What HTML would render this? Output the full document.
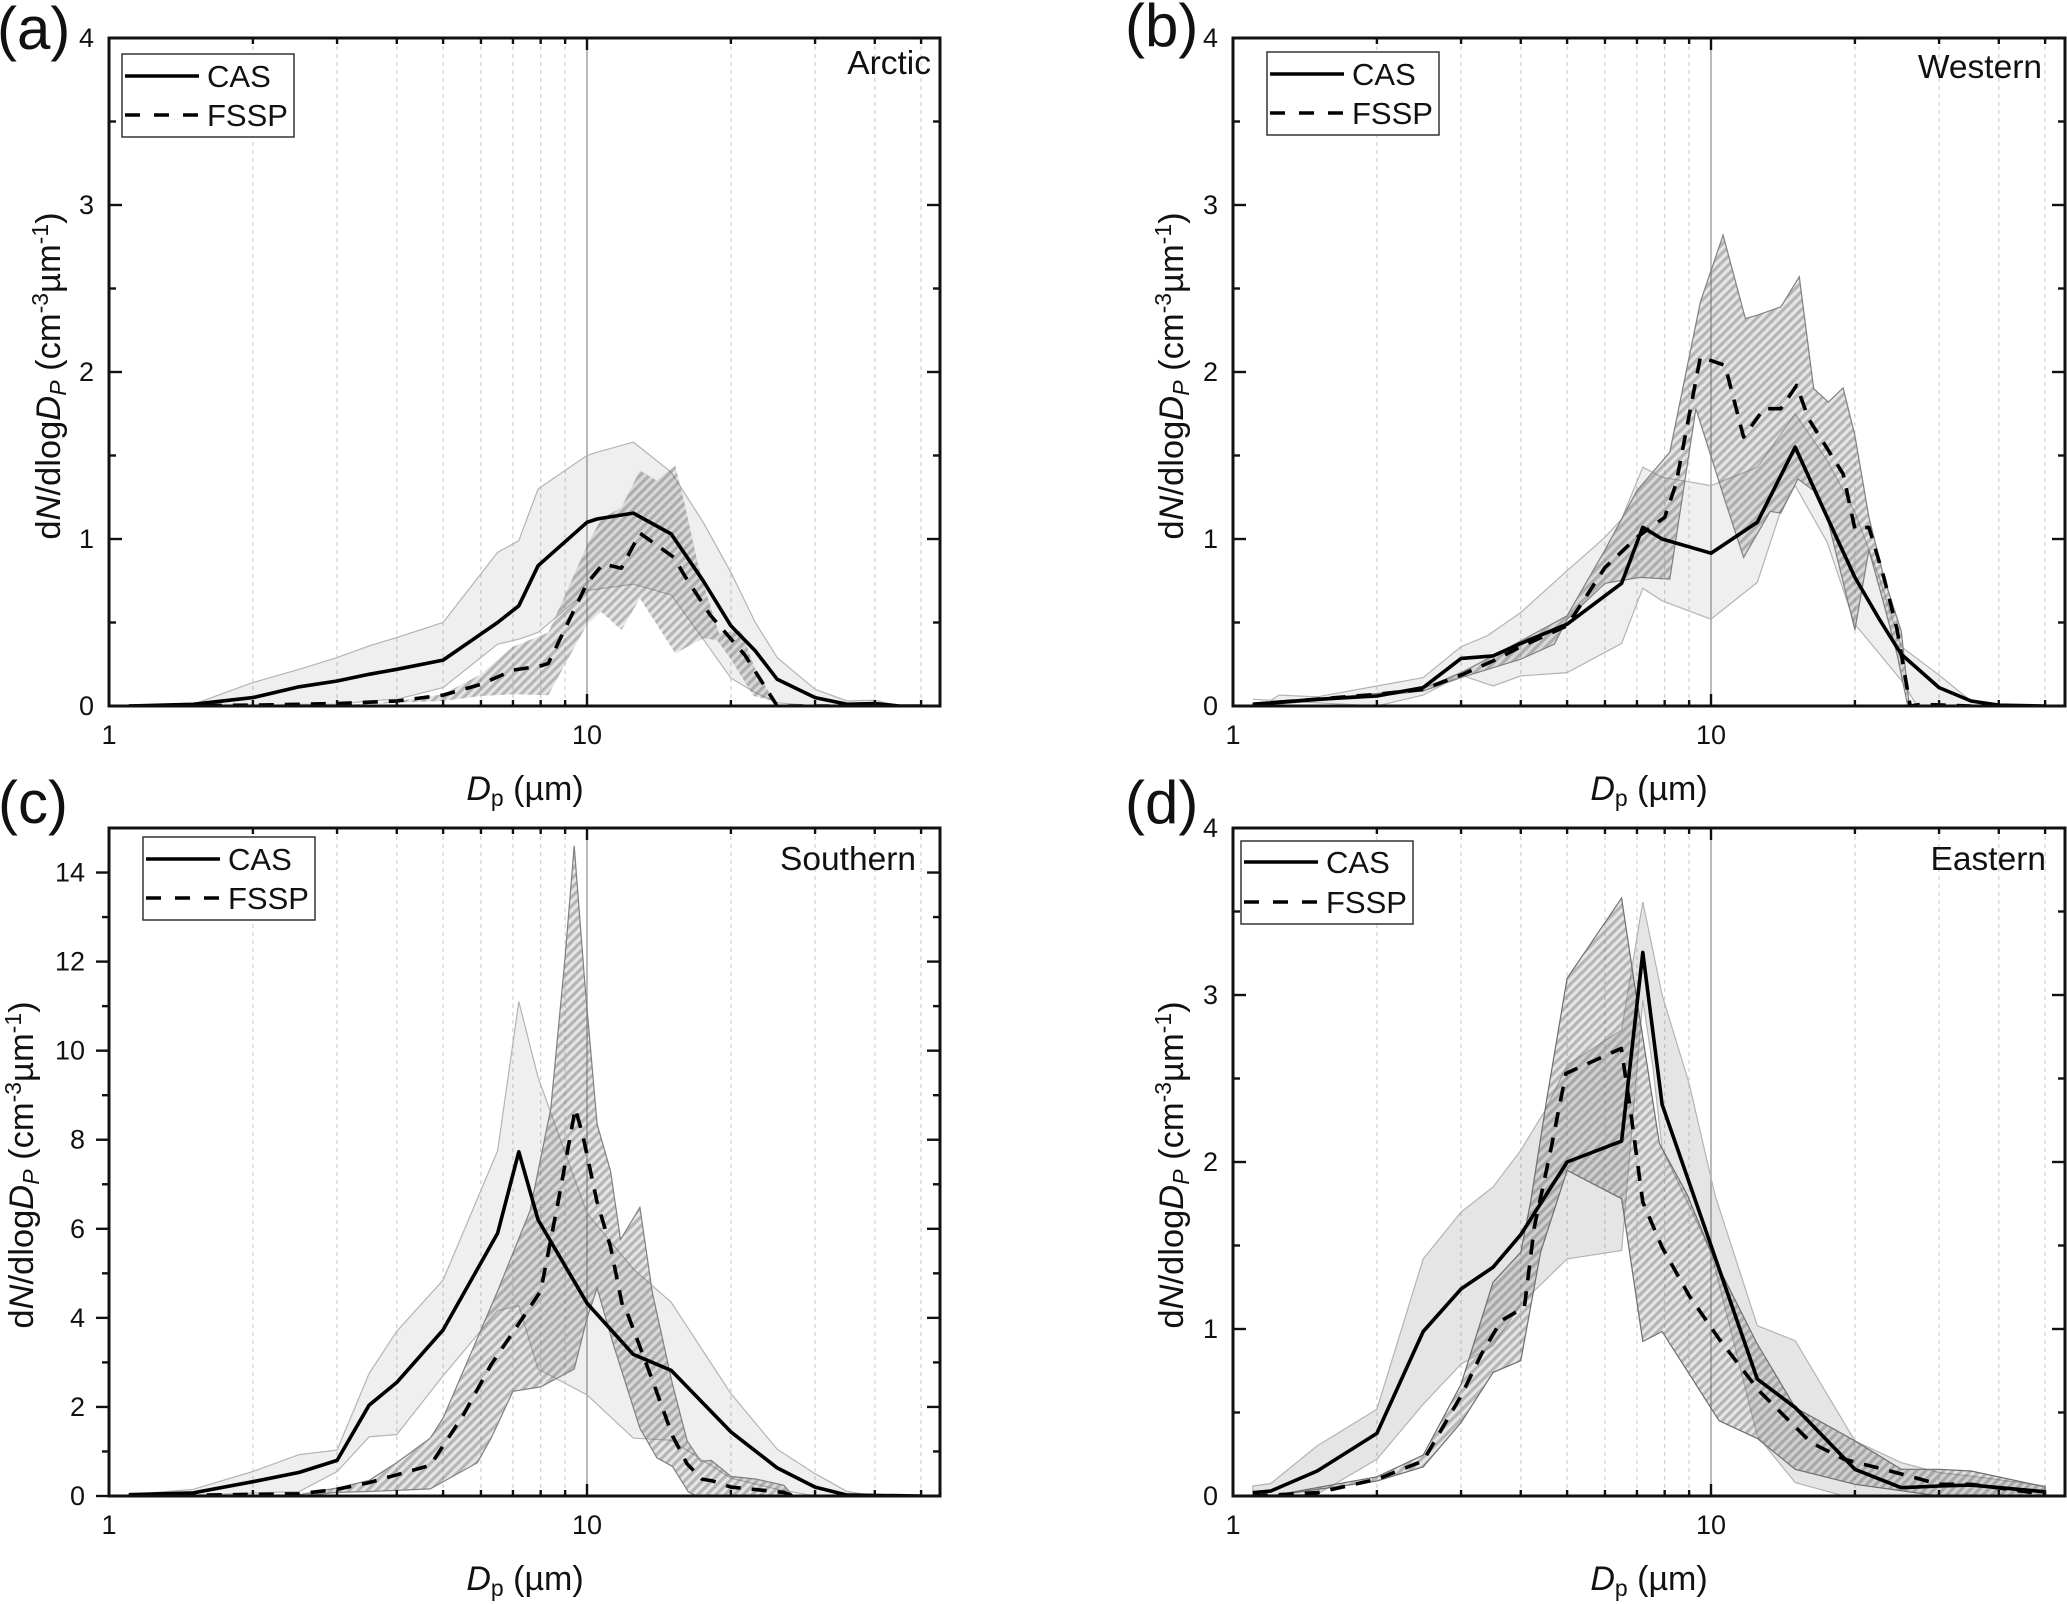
<!DOCTYPE html>
<html lang="en">
<head>
<meta charset="utf-8">
<title>Droplet size distributions by region</title>
<style>
html,body{margin:0;padding:0;background:#fff;}
svg{display:block;font-family:"Liberation Sans",Arial,sans-serif;fill:#111;}
.tick{font-size:27px;}
.ttl{font-size:34.5px;}
.xttl{font-size:34px;}
.leg{font-size:31px;}
.plab{font-size:60px;}
.reg{font-size:33.5px;}
</style>
</head>
<body>
<svg id="figure" xmlns="http://www.w3.org/2000/svg" width="2067" height="1604" viewBox="0 0 2067 1604">
<defs>
<pattern id="hatch" patternUnits="userSpaceOnUse" width="6.4" height="7" patternTransform="rotate(45)">
<rect x="0" y="0" width="3.2" height="7" fill="#646464" fill-opacity="0.48"/>
<rect x="3.2" y="0" width="3.2" height="7" fill="#646464" fill-opacity="0.17"/>
</pattern>
<clipPath id="clip-a"><rect x="109" y="38" width="831" height="668"/></clipPath>
<clipPath id="clip-b"><rect x="1233" y="38" width="832" height="668"/></clipPath>
<clipPath id="clip-c"><rect x="109" y="828" width="831" height="668"/></clipPath>
<clipPath id="clip-d"><rect x="1233" y="828" width="832" height="668"/></clipPath>
</defs>
<rect x="0" y="0" width="2067" height="1604" fill="#fff"/>

<g id="panel-a"></g>
<g id="panel-b"></g>
<g id="panel-c"></g>
<g id="panel-d"></g>

<text class="plab" x="-3" y="49">(a)</text>
<text class="plab" x="1125" y="46">(b)</text>
<text class="plab" x="-2" y="823">(c)</text>
<text class="plab" x="1125" y="823">(d)</text>

<text class="reg" x="931" y="74" text-anchor="end">Arctic</text>
<text class="reg" x="2042" y="78" text-anchor="end">Western</text>
<text class="reg" x="916" y="870" text-anchor="end">Southern</text>
<text class="reg" x="2046" y="870" text-anchor="end">Eastern</text>

<text class="xttl" x="525" y="800" text-anchor="middle"><tspan font-style="italic">D</tspan><tspan font-size="23" dy="6">p</tspan><tspan dy="-6"> (µm)</tspan></text>
<text class="xttl" x="1649" y="800" text-anchor="middle"><tspan font-style="italic">D</tspan><tspan font-size="23" dy="6">p</tspan><tspan dy="-6"> (µm)</tspan></text>
<text class="xttl" x="525" y="1590" text-anchor="middle"><tspan font-style="italic">D</tspan><tspan font-size="23" dy="6">p</tspan><tspan dy="-6"> (µm)</tspan></text>
<text class="xttl" x="1649" y="1590" text-anchor="middle"><tspan font-style="italic">D</tspan><tspan font-size="23" dy="6">p</tspan><tspan dy="-6"> (µm)</tspan></text>

<text class="ttl" transform="translate(60,376) rotate(-90)" text-anchor="middle">d<tspan font-style="italic">N</tspan>/dlog<tspan font-style="italic">D</tspan><tspan font-style="italic" font-size="23" dy="6">P</tspan><tspan dy="-6"> (cm</tspan><tspan font-size="23" dy="-12">-3</tspan><tspan dy="12">µm</tspan><tspan font-size="23" dy="-12">-1</tspan><tspan dy="12">)</tspan></text>
<text class="ttl" transform="translate(1183,376) rotate(-90)" text-anchor="middle">d<tspan font-style="italic">N</tspan>/dlog<tspan font-style="italic">D</tspan><tspan font-style="italic" font-size="23" dy="6">P</tspan><tspan dy="-6"> (cm</tspan><tspan font-size="23" dy="-12">-3</tspan><tspan dy="12">µm</tspan><tspan font-size="23" dy="-12">-1</tspan><tspan dy="12">)</tspan></text>
<text class="ttl" transform="translate(33,1165) rotate(-90)" text-anchor="middle">d<tspan font-style="italic">N</tspan>/dlog<tspan font-style="italic">D</tspan><tspan font-style="italic" font-size="23" dy="6">P</tspan><tspan dy="-6"> (cm</tspan><tspan font-size="23" dy="-12">-3</tspan><tspan dy="12">µm</tspan><tspan font-size="23" dy="-12">-1</tspan><tspan dy="12">)</tspan></text>
<text class="ttl" transform="translate(1183,1165) rotate(-90)" text-anchor="middle">d<tspan font-style="italic">N</tspan>/dlog<tspan font-style="italic">D</tspan><tspan font-style="italic" font-size="23" dy="6">P</tspan><tspan dy="-6"> (cm</tspan><tspan font-size="23" dy="-12">-3</tspan><tspan dy="12">µm</tspan><tspan font-size="23" dy="-12">-1</tspan><tspan dy="12">)</tspan></text>

<g transform="translate(122,54)">
<rect width="172" height="83" fill="#fff" stroke="#333" stroke-width="1.5"/>
<line x1="3" x2="77" y1="22" y2="22" stroke="#000" stroke-width="3.5"/>
<line x1="3" x2="77" y1="61" y2="61" stroke="#000" stroke-width="3.5" stroke-dasharray="15 14"/>
<text class="leg" x="85" y="33">CAS</text>
<text class="leg" x="85" y="72">FSSP</text>
</g>
<g transform="translate(1267,52)">
<rect width="172" height="83" fill="#fff" stroke="#333" stroke-width="1.5"/>
<line x1="3" x2="77" y1="22" y2="22" stroke="#000" stroke-width="3.5"/>
<line x1="3" x2="77" y1="61" y2="61" stroke="#000" stroke-width="3.5" stroke-dasharray="15 14"/>
<text class="leg" x="85" y="33">CAS</text>
<text class="leg" x="85" y="72">FSSP</text>
</g>
<g transform="translate(143,837)">
<rect width="172" height="83" fill="#fff" stroke="#333" stroke-width="1.5"/>
<line x1="3" x2="77" y1="22" y2="22" stroke="#000" stroke-width="3.5"/>
<line x1="3" x2="77" y1="61" y2="61" stroke="#000" stroke-width="3.5" stroke-dasharray="15 14"/>
<text class="leg" x="85" y="33">CAS</text>
<text class="leg" x="85" y="72">FSSP</text>
</g>
<g transform="translate(1241,841)">
<rect width="172" height="83" fill="#fff" stroke="#333" stroke-width="1.5"/>
<line x1="3" x2="77" y1="21" y2="21" stroke="#000" stroke-width="3.5"/>
<line x1="3" x2="77" y1="61" y2="61" stroke="#000" stroke-width="3.5" stroke-dasharray="15 14"/>
<text class="leg" x="85" y="32">CAS</text>
<text class="leg" x="85" y="72">FSSP</text>
</g>
</svg>

<script>
// Shared axis values
const xMajorTicks = [1, 10];
const xMajorLabels = ['1', '10'];
const xMinorTicks = [2, 3, 4, 5, 6, 7, 8, 9, 20, 30, 40, 50];
const yMajorTicks4 = [0, 1, 2, 3, 4];
const yMajorLabels4 = ['0', '1', '2', '3', '4'];
const yMinorTicks4 = [0.5, 1.5, 2.5, 3.5];
const yMajorTicks15 = [0, 2, 4, 6, 8, 10, 12, 14];
const yMajorLabels15 = ['0', '2', '4', '6', '8', '10', '12', '14'];
const yMinorTicks15 = [1, 3, 5, 7, 9, 11, 13];

// Panel (a) Arctic
const aCasX = [1.1, 1.5, 2, 2.5, 3, 3.5, 4, 5, 6.5, 7.2, 7.9, 10, 10.5, 12.5, 15, 17.5, 20, 22.5, 25, 30, 35, 40, 45, 50];
const aCasMean = [0, 0.01, 0.05, 0.115, 0.15, 0.19, 0.22, 0.275, 0.5, 0.6, 0.84, 1.1, 1.12, 1.155, 1.03, 0.75, 0.48, 0.33, 0.16, 0.05, 0.01, 0.015, 0, 0];
const aCasUpper = [0, 0.01, 0.14, 0.22, 0.29, 0.36, 0.41, 0.5, 0.92, 0.99, 1.3, 1.5, 1.52, 1.58, 1.4, 1.1, 0.8, 0.5, 0.29, 0.1, 0.03, 0.035, 0, 0];
const aCasLower = [0, 0, 0, 0.01, 0.01, 0.03, 0.04, 0.11, 0.37, 0.4, 0.44, 0.69, 0.7, 0.73, 0.665, 0.4, 0.167, 0.08, 0.02, 0, 0, 0, 0, 0];
const aFsspX = [1.1, 2, 3, 4, 5, 6, 7, 8, 8.3, 10, 10.8, 11.8, 12.9, 15.2, 16, 18.1, 21.4, 25, 30, 40];
const aFsspMean = [0, 0.005, 0.015, 0.03, 0.065, 0.13, 0.215, 0.24, 0.255, 0.735, 0.85, 0.825, 1.035, 0.89, 0.78, 0.545, 0.305, 0, 0, 0];
const aFsspUpperX = [3, 4, 5, 6, 7, 8.3, 10, 10.7, 11.8, 12.9, 14, 15.3, 16, 17, 17.5, 18.9, 21, 22.5, 25];
const aFsspUpper = [0, 0.03, 0.07, 0.19, 0.355, 0.44, 0.96, 1.12, 1.19, 1.41, 1.35, 1.44, 1.21, 0.87, 0.735, 0.435, 0.45, 0.22, 0];
const aFsspLowerX = [3, 4, 5, 6, 7, 8.3, 10, 10.7, 11.8, 12.9, 15.3, 17.5, 18.7, 20, 22.3, 24.5, 25];
const aFsspLower = [0, 0.02, 0.03, 0.06, 0.07, 0.065, 0.49, 0.565, 0.455, 0.645, 0.315, 0.405, 0.395, 0.28, 0.06, 0.03, 0];

// Panel (b) Western
const bCasX = [1.1, 1.5, 2, 2.5, 3, 3.5, 4, 5, 6.5, 7.2, 7.9, 10, 12.5, 15, 17.5, 20, 22.5, 25, 30, 35, 40, 50];
const bCasMean = [0.01, 0.04, 0.06, 0.11, 0.285, 0.3, 0.375, 0.49, 0.735, 1.07, 1.0, 0.915, 1.1, 1.55, 1.13, 0.77, 0.52, 0.31, 0.11, 0.03, 0.005, 0];
const bCasUpperX = [1.1, 1.2, 1.25, 1.5, 2, 2.5, 3, 3.4, 4, 5, 6, 6.5, 7.2, 7.9, 10, 12.5, 15, 17.5, 20, 22.5, 25, 30, 35, 40, 50];
const bCasUpper = [0.04, 0.035, 0.065, 0.055, 0.12, 0.17, 0.355, 0.42, 0.56, 0.81, 1.01, 1.12, 1.43, 1.37, 1.32, 1.43, 1.75, 1.47, 1.16, 0.77, 0.355, 0.185, 0.03, 0.005, 0];
const bCasLowerX = [2, 2.5, 3, 3.5, 4, 5, 6.5, 7.2, 7.9, 10, 12.5, 14, 15, 17.5, 20, 25, 27];
const bCasLower = [0, 0.065, 0.185, 0.12, 0.18, 0.2, 0.375, 0.705, 0.63, 0.52, 0.74, 1.17, 1.32, 0.98, 0.49, 0.155, 0];
const bFsspX = [1.1, 2, 2.5, 3, 3.5, 4, 5, 6, 7, 8, 8.45, 9.5, 10.7, 11.7, 12.9, 14, 15.1, 16, 18.9, 20, 21.4, 23, 24.5, 26.1, 27.5, 35];
const bFsspMean = [0.01, 0.07, 0.1, 0.185, 0.27, 0.355, 0.48, 0.83, 1.01, 1.13, 1.33, 2.09, 2.04, 1.61, 1.78, 1.78, 1.92, 1.72, 1.39, 1.06, 1.07, 0.77, 0.46, 0, 0.01, 0];
const bFsspUpperX = [1.1, 2, 2.5, 3, 3.5, 4, 5, 6, 7, 8.2, 9.5, 10.6, 11.8, 12.5, 14, 15.3, 16.4, 17.6, 18.9, 20, 21.4, 23, 25, 26];
const bFsspUpper = [0.01, 0.075, 0.105, 0.2, 0.3, 0.39, 0.54, 0.935, 1.29, 1.52, 2.42, 2.82, 2.32, 2.34, 2.39, 2.57, 1.9, 1.82, 1.905, 1.62, 1.13, 0.77, 0.45, 0];
const bFsspLowerX = [1.1, 2, 2.5, 3, 4, 4.7, 5, 6, 7.1, 8.2, 9.3, 10.7, 11.7, 13.3, 14, 15.2, 16.4, 17.6, 20, 21.4, 23, 24.5, 25.8];
const bFsspLower = [0, 0.06, 0.09, 0.17, 0.28, 0.37, 0.52, 0.735, 0.77, 0.76, 1.78, 1.23, 0.89, 1.165, 1.155, 1.36, 1.29, 1.1, 0.455, 0.935, 0.61, 0.31, 0];

// Panel (c) Southern
const cCasX = [1.1, 1.5, 2, 2.5, 3, 3.5, 4, 5, 6.5, 7.2, 7.9, 10, 12.5, 15, 20, 25, 30, 35, 50];
const cCasMean = [0.03, 0.07, 0.32, 0.53, 0.8, 2.04, 2.55, 3.73, 5.9, 7.73, 6.2, 4.33, 3.18, 2.82, 1.44, 0.63, 0.2, 0.02, 0];
const cCasUpperX = [1.1, 1.5, 2, 2.5, 3, 3.5, 4, 5, 6.5, 7.2, 7.9, 10, 12.5, 15, 20, 25, 30, 35, 40];
const cCasUpper = [0.03, 0.15, 0.55, 0.93, 1.03, 2.75, 3.7, 4.85, 7.75, 11.1, 9.4, 6.35, 5.1, 4.35, 2.3, 1.05, 0.5, 0.1, 0];
const cCasLowerX = [1.1, 1.5, 2.5, 3, 3.5, 4, 5, 6.5, 7.2, 7.9, 10, 12.5, 15, 20, 25, 30, 40];
const cCasLower = [0, 0.02, 0.1, 0.55, 1.33, 1.38, 2.7, 4.16, 4.27, 2.85, 2.27, 1.3, 1.25, 0.4, 0.15, 0, 0];
const cFsspX = [1.1, 2.5, 3, 3.5, 4.7, 5.5, 6.3, 7.2, 8, 8.7, 9.45, 9.8, 10.5, 11.2, 11.9, 12.1, 13.7, 15.1, 16.2, 17.4, 18.3, 20, 25.8, 27];
const cFsspMean = [0, 0.05, 0.15, 0.3, 0.69, 1.8, 2.95, 3.87, 4.6, 6.6, 8.7, 8.1, 6.6, 5.6, 4.2, 4.15, 2.6, 1.35, 0.72, 0.38, 0.34, 0.2, 0.08, 0];
const cFsspUpperX = [2.5, 3, 3.5, 4, 4.7, 5, 6.5, 7.6, 8.4, 9, 9.4, 9.9, 10.5, 11.2, 11.75, 12.9, 13.7, 15.1, 16.2, 17.3, 18.2, 20, 22.6, 25.8, 27];
const cFsspUpper = [0.03, 0.18, 0.35, 0.75, 1.3, 1.75, 4.6, 6.4, 8.7, 12.1, 14.6, 11.5, 8.35, 7.3, 5.76, 6.48, 4.56, 2.5, 1.24, 0.78, 0.8, 0.44, 0.38, 0.24, 0];
const cFsspLowerX = [2.5, 3, 3.5, 4.7, 5.9, 6.3, 7, 8, 9.4, 10, 10.5, 11.3, 12.9, 14, 15.1, 16.3, 17];
const cFsspLower = [0, 0.08, 0.1, 0.16, 0.75, 1.3, 2.35, 2.45, 2.85, 3.99, 4.67, 3.47, 1.52, 0.86, 0.66, 0.09, 0];

// Panel (d) Eastern
const dCasX = [1.1, 1.2, 1.5, 2, 2.5, 3, 3.5, 4, 5, 6.5, 7.2, 7.9, 10, 12.5, 15, 20, 25, 30, 35, 50];
const dCasMean = [0.02, 0.03, 0.15, 0.375, 0.985, 1.24, 1.37, 1.565, 2.0, 2.125, 3.255, 2.345, 1.5, 0.7, 0.53, 0.16, 0.05, 0.06, 0.065, 0.025];
const dCasUpperX = [1.1, 1.2, 1.5, 2, 2.5, 3, 3.5, 4, 4.5, 5, 6.5, 7.2, 7.9, 9, 10.2, 12.5, 15, 20, 25, 30, 35, 50];
const dCasUpper = [0.06, 0.075, 0.3, 0.52, 1.42, 1.7, 1.85, 2.07, 2.31, 2.58, 2.79, 3.557, 3.0, 2.47, 1.8, 1.02, 0.93, 0.33, 0.2, 0.14, 0.12, 0.06];
const dCasLowerX = [1.1, 1.5, 2, 2.5, 3, 3.5, 4, 5, 6.5, 7.2, 7.56, 7.9, 10, 12.5, 15, 19, 50];
const dCasLower = [0, 0.01, 0.22, 0.55, 0.79, 0.9, 1.15, 1.42, 1.47, 2.97, 2.57, 2.08, 1.46, 0.36, 0.08, 0, 0];
const dFsspX = [1.1, 1.5, 2, 2.5, 3, 3.31, 3.64, 4.07, 4.27, 4.62, 4.97, 6.49, 6.77, 7.2, 7.9, 9, 10.4, 12.6, 16.2, 19, 23.7, 30, 35, 50];
const dFsspMean = [0, 0.02, 0.1, 0.21, 0.6, 0.85, 1.05, 1.13, 1.61, 2.07, 2.53, 2.68, 2.33, 1.76, 1.49, 1.2, 0.94, 0.63, 0.32, 0.22, 0.15, 0.07, 0.07, 0.01];
const dFsspUpperX = [1.2, 2, 2.5, 3, 3.5, 4, 4.2, 4.53, 5, 6.5, 6.93, 7.8, 8.9, 10, 12.5, 15, 20, 25, 30, 35, 50];
const dFsspUpper = [0, 0.115, 0.245, 0.67, 1.28, 1.46, 1.77, 2.37, 3.1, 3.58, 3.05, 2.11, 1.81, 1.46, 0.91, 0.53, 0.33, 0.16, 0.16, 0.15, 0.055];
const dFsspLowerX = [1.2, 2, 2.5, 3, 3.5, 4, 4.4, 5, 6.5, 7.2, 7.9, 10.4, 12.5, 15, 20, 30, 50];
const dFsspLower = [0, 0.09, 0.175, 0.44, 0.74, 0.81, 1.46, 1.95, 1.78, 0.925, 0.985, 0.45, 0.345, 0.16, 0.07, 0, 0];

const SVGNS = 'http://www.w3.org/2000/svg';

function make(tag, attrs, parent) {
  const el = document.createElementNS(SVGNS, tag);
  for (const k in attrs) el.setAttribute(k, attrs[k]);
  parent.appendChild(el);
  return el;
}
function xAxisScale(p, v) { return p.left + Math.log10(v) * p.decade; }
function yAxisScale(p, v) { return p.bottom - (v / p.yMax) * (p.bottom - p.top); }
function linePoints(p, xs, ys) {
  return xs.map(function (x, i) { return xAxisScale(p, x).toFixed(1) + ',' + yAxisScale(p, ys[i]).toFixed(1); });
}

function drawPanel(p) {
  const root = document.getElementById('panel-' + p.id);

  xMinorTicks.forEach(function (v) {
    const x = xAxisScale(p, v);
    const grid = make('line', { x1: x, x2: x, y1: p.top, y2: p.bottom, stroke: '#cfcfcf', 'stroke-width': 1.2, 'stroke-dasharray': '4 4' }, root);
    
    
  });
  const ten = xAxisScale(p, 10);
  const tenLine = make('line', { x1: ten, x2: ten, y1: p.top, y2: p.bottom, stroke: '#a8a8a8', 'stroke-width': 1.6 }, root);
  
  

  const plot = make('g', { 'clip-path': 'url(#clip-' + p.id + ')' }, root);
  
  

  const casBand = make('polygon', {
    points: linePoints(p, p.casUpperX, p.casUpper).concat(linePoints(p, p.casLowerX, p.casLower).reverse()).join(' '),
    fill: '#646464', 'fill-opacity': p.casOpacity, stroke: '#b4b4b4', 'stroke-width': 1.2
  }, plot);
  
  

  const fsspBand = make('polygon', {
    points: linePoints(p, p.fsspUpperX, p.fsspUpper).concat(linePoints(p, p.fsspLowerX, p.fsspLower).reverse()).join(' '),
    fill: 'url(#hatch)', stroke: p.fsspStroke, 'stroke-width': 1.2
  }, plot);
  
  

  const casLine = make('polyline', {
    points: linePoints(p, p.casX, p.casMean).join(' '),
    fill: 'none', stroke: '#000', 'stroke-width': 3.6, 'stroke-linejoin': 'round'
  }, plot);
  
  

  const fsspLine = make('polyline', {
    points: linePoints(p, p.fsspX, p.fsspMean).join(' '),
    fill: 'none', stroke: '#000', 'stroke-width': 3.6, 'stroke-dasharray': '15 11', 'stroke-linejoin': 'round'
  }, plot);
  
  

  const frame = make('rect', { x: p.left, y: p.top, width: p.right - p.left, height: p.bottom - p.top, fill: 'none', stroke: '#111', 'stroke-width': 3 }, root);
  
  

  xMinorTicks.forEach(function (v) {
    const x = xAxisScale(p, v);
    const b = make('line', { x1: x, x2: x, y1: p.bottom, y2: p.bottom - 6, stroke: '#111', 'stroke-width': 2.4 }, root);
    
    
    const t = make('line', { x1: x, x2: x, y1: p.top, y2: p.top + 6, stroke: '#111', 'stroke-width': 2.4 }, root);
    
    
  });
  xMajorTicks.forEach(function (v, i) {
    const x = xAxisScale(p, v);
    const b = make('line', { x1: x, x2: x, y1: p.bottom, y2: p.bottom - 12, stroke: '#111', 'stroke-width': 2.4 }, root);
    
    
    const t = make('line', { x1: x, x2: x, y1: p.top, y2: p.top + 12, stroke: '#111', 'stroke-width': 2.4 }, root);
    
    
    const lab = make('text', { x: x, y: p.bottom + 38, 'text-anchor': 'middle', class: 'tick' }, root);
    lab.textContent = xMajorLabels[i];
    
    
  });

  const leftDir = p.leftTicksOut ? -1 : 1;
  p.yMinorTicks.forEach(function (v) {
    const y = yAxisScale(p, v);
    const l = make('line', { x1: p.left, x2: p.left + leftDir * 7, y1: y, y2: y, stroke: '#111', 'stroke-width': 2.4 }, root);
    
    
    const r = make('line', { x1: p.right, x2: p.right - 7, y1: y, y2: y, stroke: '#111', 'stroke-width': 2.4 }, root);
    
    
  });
  p.yMajorTicks.forEach(function (v, i) {
    const y = yAxisScale(p, v);
    const l = make('line', { x1: p.left, x2: p.left + leftDir * 13, y1: y, y2: y, stroke: '#111', 'stroke-width': 2.4 }, root);
    
    
    const r = make('line', { x1: p.right, x2: p.right - 13, y1: y, y2: y, stroke: '#111', 'stroke-width': 2.4 }, root);
    
    
    const lab = make('text', { x: p.left - (p.leftTicksOut ? 24 : 15), y: y + 9, 'text-anchor': 'end', class: 'tick' }, root);
    lab.textContent = p.yMajorLabels[i];
    
    
  });
}

drawPanel({
  id: 'a', left: 109, right: 940, top: 38, bottom: 706, decade: 478, yMax: 4,
  yMajorTicks: yMajorTicks4, yMajorLabels: yMajorLabels4, yMinorTicks: yMinorTicks4,
  leftTicksOut: false, casOpacity: 0.1, fsspStroke: 'none',
  casX: aCasX, casMean: aCasMean, casUpperX: aCasX, casUpper: aCasUpper, casLowerX: aCasX, casLower: aCasLower,
  fsspX: aFsspX, fsspMean: aFsspMean, fsspUpperX: aFsspUpperX, fsspUpper: aFsspUpper, fsspLowerX: aFsspLowerX, fsspLower: aFsspLower
});
drawPanel({
  id: 'b', left: 1233, right: 2065, top: 38, bottom: 706, decade: 478, yMax: 4,
  yMajorTicks: yMajorTicks4, yMajorLabels: yMajorLabels4, yMinorTicks: yMinorTicks4,
  leftTicksOut: false, casOpacity: 0.1, fsspStroke: '#808080',
  casX: bCasX, casMean: bCasMean, casUpperX: bCasUpperX, casUpper: bCasUpper, casLowerX: bCasLowerX, casLower: bCasLower,
  fsspX: bFsspX, fsspMean: bFsspMean, fsspUpperX: bFsspUpperX, fsspUpper: bFsspUpper, fsspLowerX: bFsspLowerX, fsspLower: bFsspLower
});
drawPanel({
  id: 'c', left: 109, right: 940, top: 828, bottom: 1496, decade: 478, yMax: 15,
  yMajorTicks: yMajorTicks15, yMajorLabels: yMajorLabels15, yMinorTicks: yMinorTicks15,
  leftTicksOut: true, casOpacity: 0.1, fsspStroke: '#808080',
  casX: cCasX, casMean: cCasMean, casUpperX: cCasUpperX, casUpper: cCasUpper, casLowerX: cCasLowerX, casLower: cCasLower,
  fsspX: cFsspX, fsspMean: cFsspMean, fsspUpperX: cFsspUpperX, fsspUpper: cFsspUpper, fsspLowerX: cFsspLowerX, fsspLower: cFsspLower
});
drawPanel({
  id: 'd', left: 1233, right: 2065, top: 828, bottom: 1496, decade: 478, yMax: 4,
  yMajorTicks: yMajorTicks4, yMajorLabels: yMajorLabels4, yMinorTicks: yMinorTicks4,
  leftTicksOut: false, casOpacity: 0.17, fsspStroke: '#6e6e6e',
  casX: dCasX, casMean: dCasMean, casUpperX: dCasUpperX, casUpper: dCasUpper, casLowerX: dCasLowerX, casLower: dCasLower,
  fsspX: dFsspX, fsspMean: dFsspMean, fsspUpperX: dFsspUpperX, fsspUpper: dFsspUpper, fsspLowerX: dFsspLowerX, fsspLower: dFsspLower
});
</script>
</body>
</html>
